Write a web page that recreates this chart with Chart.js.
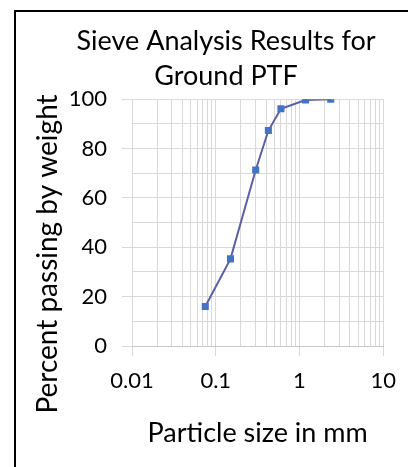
<!DOCTYPE html>
<html>
<head>
<meta charset="utf-8">
<script src="https://cdn.jsdelivr.net/npm/chart.js@4.4.1/dist/chart.umd.min.js"></script>
<style>
  html, body { margin: 0; padding: 0; background: #fff; }
  #wrap { position: relative; width: 408px; height: 467px; }
</style>
</head>
<body>
<div id="wrap"><canvas id="c" width="408" height="467"></canvas></div>
<script>
// ---- data ----
const particleSizes = [0.075, 0.15, 0.3, 0.425, 0.6, 1.18, 2.36];
const percentPassing = [16, 35.3, 71.3, 87.3, 96.1, 99.7, 100];
const xTickLabels = [0.01, 0.1, 1, 10];
const yTickLabels = [0, 20, 40, 60, 80, 100];
const titleLines = ['Sieve Analysis Results for', 'Ground PTF'];
const xTitle = 'Particle size in mm';
const yTitle = 'Percent passing by weight';

// gridline positions for the log axis (1..9 in each decade)
const xGridValues = [];
for (let e = -2; e <= 0; e++) {
  for (let m = 1; m <= 9; m++) xGridValues.push(+(m * Math.pow(10, e)).toPrecision(6));
}
xGridValues.push(10);

const points = particleSizes.map((x, i) => ({ x: x, y: percentPassing[i] }));
const FONT = 'Lato';
const gridCol = '#d9d9d9';

const isDecade = v => xTickLabels.some(t => Math.abs(t - v) < 1e-9);

const borderPlugin = {
  id: 'frame',
  beforeDraw(chart) {
    const ctx = chart.ctx;
    ctx.save();
    ctx.strokeStyle = '#000';
    ctx.lineWidth = 2;
    ctx.strokeRect(15, 11, 1000, 1000);
    ctx.restore();
  }
};

const yTitlePlugin = {
  id: 'yTitle',
  afterDraw(chart) {
    const ctx = chart.ctx;
    ctx.save();
    ctx.translate(48, 254);
    ctx.rotate(-Math.PI / 2);
    ctx.font = '28px ' + FONT;
    ctx.fillStyle = '#000';
    ctx.textAlign = 'center';
    ctx.textBaseline = 'middle';
    ctx.fillText(yTitle, 0, 0);
    ctx.restore();
  }
};

new Chart(document.getElementById('c'), {
  type: 'scatter',
  data: {
    datasets: [{
      data: points,
      showLine: true,
      borderColor: '#5B5FA5',
      borderWidth: 2,
      backgroundColor: '#4472C4',
      pointBackgroundColor: '#4472C4',
      pointBorderColor: '#4472C4',
      pointStyle: 'rect',
      pointRadius: 5,
      pointBorderWidth: 0,
      tension: 0
    }]
  },
  options: {
    responsive: false,
    animation: false,
    devicePixelRatio: 1,
    layout: { padding: { left: 63, right: 19, top: 0, bottom: 0 } },
    plugins: {
      legend: { display: false },
      tooltip: { enabled: false },
      title: {
        display: true,
        text: titleLines,
        color: '#000',
        font: { family: FONT, size: 27, weight: 'normal', lineHeight: 1.3 },
        padding: { top: 23.5, bottom: 5.5 }
      }
    },
    scales: {
      x: {
        type: 'logarithmic',
        min: 0.01,
        max: 10,
        afterBuildTicks(scale) {
          scale.ticks = xGridValues.map(v => ({ value: v, major: isDecade(v) }));
        },
        afterFit(scale) { scale.height = 121; },
        ticks: {
          autoSkip: false,
          maxRotation: 0,
          minRotation: 0,
          padding: 12,
          color: '#000',
          font: { family: FONT, size: 22 },
          callback: v => isDecade(v) ? String(v) : ''
        },
        grid: {
          color: gridCol,
          lineWidth: 1,
          tickLength: 10,
          tickColor: ctx => (ctx.tick && isDecade(ctx.tick.value)) ? gridCol : 'rgba(0,0,0,0)'
        },
        border: { color: '#c8c8c8' },
        title: {
          display: true,
          text: xTitle,
          color: '#000',
          font: { family: FONT, size: 27 },
          padding: { top: 0, bottom: 18 }
        }
      },
      y: {
        min: 0,
        max: 100,
        afterFit(scale) { scale.width = 69; },
        ticks: {
          stepSize: 10,
          autoSkip: false,
          padding: 15,
          color: '#000',
          font: { family: FONT, size: 22 },
          callback: v => yTickLabels.includes(v) ? String(v) : ''
        },
        grid: {
          color: gridCol,
          lineWidth: 1,
          tickLength: 10,
          tickColor: ctx => (ctx.tick && yTickLabels.includes(ctx.tick.value)) ? gridCol : 'rgba(0,0,0,0)'
        },
        border: { display: false }
      }
    }
  },
  plugins: [borderPlugin, yTitlePlugin]
});
</script>
</body>
</html>
